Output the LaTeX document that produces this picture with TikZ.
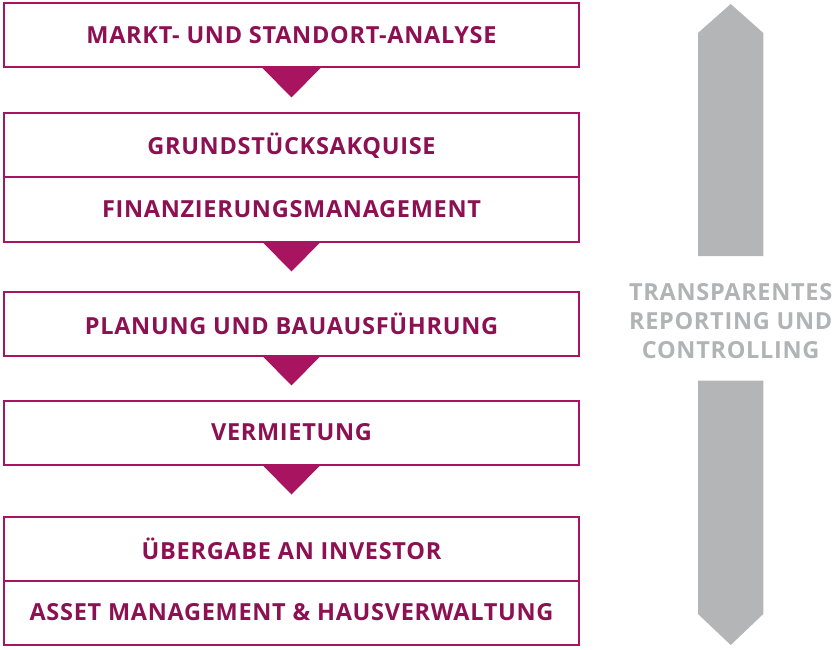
\documentclass[tikz,border=0pt]{standalone}
\usepackage{fontspec}
\setmainfont{Open Sans}[LetterSpace=3]
\usepackage{tikz}
\usetikzlibrary{positioning}
\definecolor{berry}{RGB}{168,20,96}
\definecolor{berrytext}{RGB}{140,16,82}
\definecolor{steel}{RGB}{180,181,183}
\definecolor{steeltext}{RGB}{178,179,181}
\tikzset{x=1pt, y=1pt, node distance=0pt, font=\bfseries\fontsize{23.5}{29}\selectfont}
\tikzstyle{phase} = [draw=berry, line width=2pt, fill=white, rectangle, minimum height=64pt, minimum width=575pt, inner sep=0pt, outer sep=0pt, text=berrytext, align=center]
\tikzstyle{tri} = [fill=berry]
\tikzstyle{band} = [fill=steel]
\tikzstyle{note} = [text=steeltext, align=center, inner sep=0pt]

\begin{document}
\begin{tikzpicture}
		\useasboundingbox (0,0) rectangle (836,-650);

		\node [phase] at (291.5,-35.5) (markt) {MARKT- UND STANDORT-ANALYSE};
		\node [phase, below=46pt of markt] (grund) {GRUNDSTÜCKSAKQUISE};
		\node [phase, below=0pt of grund] (finanz) {FINANZIERUNGSMANAGEMENT};
		\node [phase, below=50pt of finanz] (planung) {PLANUNG UND BAUAUSFÜHRUNG};
		\node [phase, below=45pt of planung] (vermiet) {VERMIETUNG};
		\node [phase, below=52pt of vermiet] (uebergabe) {ÜBERGABE AN INVESTOR};
		\node [phase, below=0pt of uebergabe] (asset) {ASSET MANAGEMENT \& HAUSVERWALTUNG};

		% pointers between the phases
		\foreach \b in {markt, finanz, planung, vermiet}
			\fill [tri] ([xshift=-29.5pt]\b.south) -- ([xshift=29.5pt]\b.south) -- ++(-29.5,-30) -- cycle;

		% side band
		\node [note] at (730.7,-321) (ctrl) {TRANSPARENTES\\REPORTING UND\\CONTROLLING};
		\coordinate (top_tip) at (730.7,-4);
		\coordinate (bot_tip) at (730.7,-645);

		\fill [band] (top_tip) -- ++(32.6,-29) -- (763.3,-256) -- (698,-256) -- (698,-33) -- cycle;
		\fill [band] (bot_tip) -- ++(32.6,31) -- (763.3,-380.7) -- (698,-380.7) -- (698,-614) -- cycle;

	\end{tikzpicture}
\end{document}
